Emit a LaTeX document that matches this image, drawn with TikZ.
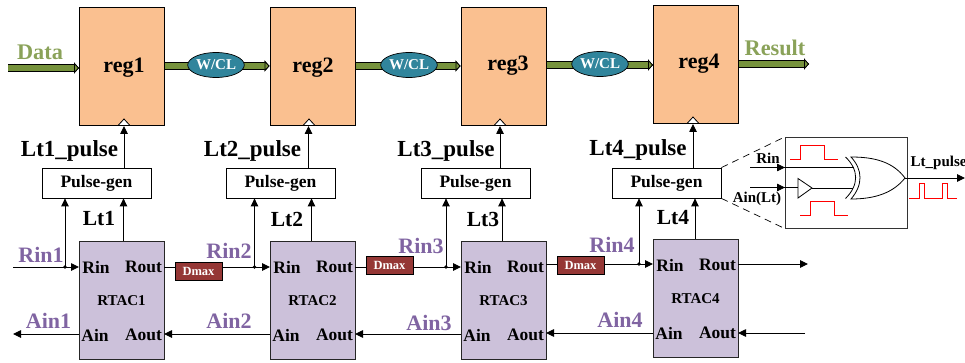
\documentclass[tikz,border=0pt]{standalone}
\usepackage{fontspec}
\setmainfont{Liberation Serif}
\usetikzlibrary{arrows.meta,shapes.geometric,calc}
\definecolor{regfill}{HTML}{FAC090}
\definecolor{rtacfill}{HTML}{CCC1DA}
\definecolor{wclfill}{HTML}{31859C}
\definecolor{busgreen}{HTML}{76923C}
\definecolor{labpurple}{HTML}{8064A2}
\definecolor{dmaxfill}{HTML}{953735}
\newcommand{\fs}[1]{\fontsize{#1pt}{#1pt}\selectfont\bfseries}
\tikzset{
  x=1pt,y=-1pt,
  regbox/.style={draw=black,line width=.9pt,fill=regfill,minimum width=85pt,minimum height=118pt,inner sep=0pt,font=\fs{22}},
  rtacbox/.style={draw=black!85,line width=.9pt,fill=rtacfill,minimum width=85pt,minimum height=118pt,inner sep=0pt},
  pgbox/.style={draw=black,line width=.8pt,fill=white,minimum width=109pt,minimum height=30pt,inner sep=0pt,font=\fs{17.5}},
  wclnode/.style={ellipse,draw=black,line width=.7pt,fill=wclfill,text=white,minimum width=54pt,minimum height=25pt,inner sep=0pt,font=\fs{15}},
  dmaxbox/.style={draw=black,line width=.7pt,fill=dmaxfill,text=white,minimum width=47pt,minimum height=18pt,inner sep=0pt,font=\fs{12.5}},
  wire/.style={draw=black,line width=.9pt},
  arrowwire/.style={wire,-{Triangle[length=8pt,width=7.5pt]}},
  bus/.style={line width=6pt,draw=busgreen,-{Triangle[length=5pt,width=11pt,fill=busgreen,color=black,line width=.8pt]},
    preaction={draw=black,line width=7.6pt,-{Triangle[length=5pt,width=11pt,fill=busgreen,color=black,line width=.8pt]}}},
  greenlab/.style={text=busgreen!85!white,font=\fs{22.3},inner sep=0pt},
  purplelab/.style={text=labpurple,font=\fs{22},inner sep=0pt},
  blacklab/.style={text=black,font=\fs{23},inner sep=0pt},
  ltlab/.style={text=black,font=\fs{21.5},inner sep=0pt},
  portlab/.style={text=black,font=\fs{17.5},inner sep=0pt},
  namelab/.style={text=black,font=\fs{15},inner sep=0pt},
  insetlab/.style={text=black,font=\fs{15},inner sep=0pt},
  dot/.style={circle,fill=black,minimum size=3.6pt,inner sep=0pt},
  pulse/.style={draw=red,line width=1pt},
  notch/.style={draw=black,line width=.8pt,fill=white},
}
\begin{document}
\begin{tikzpicture}
\useasboundingbox (0,0) rectangle (965,363);

% registers
\node[regbox] (reg1) at (121.5,66) {};
\node[regbox] (reg2) at (312.5,66) {};
\node[regbox] (reg3) at (503.5,66) {};
\node[regbox] (reg4) at (695.5,64) {};
\node[font=\fs{22},inner sep=0pt] (t1) at (124,68) {reg1};
\node[font=\fs{22},inner sep=0pt] (t2) at (313,68) {reg2};
\node[font=\fs{22},inner sep=0pt] (t3) at (508,66) {reg3};
\node[font=\fs{22},inner sep=0pt] (t4) at (699,64) {reg4};

% pulse generators
\node[pgbox] (pg1) at (96.5,183) {Pulse-gen};
\node[pgbox] (pg2) at (280.5,183) {Pulse-gen};
\node[pgbox] (pg3) at (475.5,183) {Pulse-gen};
\node[pgbox] (pg4) at (666.5,183) {Pulse-gen};

% RTAC blocks
\node[rtacbox] (rt1) at (121.5,300) {};
\node[rtacbox] (rt2) at (312.5,300) {};
\node[rtacbox] (rt3) at (503.5,300) {};
\node[rtacbox] (rt4) at (695.5,298) {};
\foreach \n/\x/\y in {1/121.5/300,2/312.5/300,3/503.5/300,4/695.5/298}{
  \node[portlab] (rinp\n) at (\x-25.5,\y-33) {Rin};
  \node[portlab] (rout\n) at (\x+22,\y-33) {Rout};
  \node[portlab] (ainp\n) at (\x-26.5,\y+35) {Ain};
  \node[portlab] (aout\n) at (\x+22,\y+35) {Aout};
  \node[namelab] (rtn\n) at (\x,\y+1) {RTAC\n};
}

% coordinates on the wires
\coordinate (datain) at (8,68);
\coordinate (datato) at (79,68);
\coordinate (resto) at (809,64);
\coordinate (rinin) at (13,267);
\coordinate (ainout) at (13,334);
\coordinate (routend) at (808,264);
\coordinate (aoutstart) at (805,333);

% green buses
\draw[bus] (datain) -- (datato);
\draw[bus] (165,66) -- (269.5,66);
\draw[bus] (356,66) -- (460.5,66);
\draw[bus] (547,65) -- (653,65);
\draw[bus] (739,64) -- (resto);
\node[wclnode] (w1) at (216,65) {W/CL};
\node[wclnode] (w2) at (409,65) {W/CL};
\node[wclnode] (w3) at (600,64) {W/CL};

% clock notches and pulse lines
\foreach \n/\x/\y in {1/124/125,2/309/125,3/500/125,4/693/123}{
  \draw[notch] (\x-5.5,\y) -- (\x,\y-6) -- (\x+5.5,\y);
}
\draw[arrowwire] (pg1.north -| 124,0) -- (124,126);
\draw[arrowwire] (pg2.north -| 308.5,0) -- (308.5,126);
\draw[arrowwire] (pg3.north -| 500,0) -- (500,126);
\draw[arrowwire] (pg4.north -| 693,0) -- (693,124);

% Lt wires
\draw[arrowwire] (rt1.north -| 123.5,0) -- (pg1.south -| 123.5,0);
\draw[arrowwire] (rt2.north -| 311.5,0) -- (pg2.south -| 311.5,0);
\draw[arrowwire] (rt3.north -| 502,0) -- (pg3.south -| 502,0);
\draw[arrowwire] (rt4.north -| 695,0) -- (pg4.south -| 695,0);

% request wires
\draw[arrowwire] (rinin) -- (79,267);
\draw[arrowwire] (164,267) -- (270,267);
\draw[arrowwire] (355,267) -- (461,267);
\draw[arrowwire] (546,264) -- (653,264);
\draw[arrowwire] (738,264) -- (routend);

\node[dot] (d1) at (65,267) {};
\node[dot] (d2) at (254.5,267) {};
\node[dot] (d3) at (446,267) {};
\node[dot] (d4) at (639,264) {};
\draw[arrowwire] (d1.center) -- (pg1.south -| d1.center);
\draw[arrowwire] (d2.center) -- (pg2.south -| d2.center);
\draw[arrowwire] (d3.center) -- (pg3.south -| d3.center);
\draw[arrowwire] (d4.center) -- (pg4.south -| d4.center);

% acknowledge wires
\draw[arrowwire] (79,334) -- (ainout);
\draw[arrowwire] (270,334) -- (164,334);
\draw[arrowwire] (461,334) -- (355,334);
\draw[arrowwire] (653,333) -- (546,333);
\draw[arrowwire] (aoutstart) -- (738,333);

% Dmax
\node[dmaxbox] (dm1) at (198.5,271) {Dmax};
\node[dmaxbox] (dm2) at (389.5,265) {Dmax};
\node[dmaxbox] (dm3) at (580.5,265) {Dmax};

% labels
\node[greenlab] (ldata) at (40,52) {Data};
\node[greenlab] (lres) at (775,48) {Result};
\node[blacklab] (lp1) at (69.5,151) {Lt1\_pulse};
\node[blacklab] (lp2) at (252.5,151) {Lt2\_pulse};
\node[blacklab] (lp3) at (446,151) {Lt3\_pulse};
\node[blacklab] (lp4) at (638,150) {Lt4\_pulse};
\node[ltlab] (ll1) at (99,219) {Lt1};
\node[ltlab] (ll2) at (287,219) {Lt2};
\node[ltlab] (ll3) at (483,219) {Lt3};
\node[ltlab] (ll4) at (673,218) {Lt4};
\node[purplelab] (lr1) at (41,255) {Rin1};
\node[purplelab] (lr2) at (229,251) {Rin2};
\node[purplelab] (lr3) at (421,246) {Rin3};
\node[purplelab] (lr4) at (612,245) {Rin4};
\node[purplelab] (la1) at (48.5,321) {Ain1};
\node[purplelab] (la2) at (229,321) {Ain2};
\node[purplelab] (la3) at (429,323) {Ain3};
\node[purplelab] (la4) at (620,320) {Ain4};

% inset
\node[draw=black!80,line width=.9pt,fill=white,minimum width=122pt,minimum height=90.5pt,inner sep=0pt] (inset) at (846,182.75) {};
\draw[black,line width=.7pt,dash pattern=on 7pt off 5pt] (pg4.north east) -- (inset.north west);
\draw[black,line width=.7pt,dash pattern=on 7pt off 5pt] (pg4.south east) -- (inset.south west);
% pulses
\draw[pulse] (790,160) -- (800,160) -- (800,146) -- (824,146) -- (824,160) -- (838,160);
\draw[pulse] (800,216) -- (810,216) -- (810,202) -- (834,202) -- (834,216) -- (848,216);
\draw[pulse] (909,198.5) -- (919,198.5) -- (919,184) -- (924,184) -- (924,198.5) -- (942,198.5) -- (942,184) -- (947,184) -- (947,198.5) -- (957,198.5);
% gates
\coordinate (xorout) at (905,178);
\draw[black,line width=.8pt] (750,167.5) -- (854,167.5);
\draw[black,line width=.8pt] (750,187.5) -- (798,187.5);
\draw[black,line width=.8pt] (812,188) -- (853,188);
\draw[arrowwire,line width=.8pt] (750,167.5) -- (785,167.5);
\draw[arrowwire,line width=.8pt] (750,187.5) -- (785,187.5);
\draw[black,line width=.8pt,fill=white] (798,178.5) -- (812,188) -- (798,198) -- cycle;
\draw[black,line width=.8pt] (845.5,157) .. controls (859,170) and (859,185) .. (845.5,198.5);
\draw[black,line width=.8pt,fill=white] (851,157) .. controls (875,157) and (893,162) .. (xorout) .. controls (893,193) and (875,199) .. (851,199) .. controls (863,185) and (863,170) .. cycle;
\draw[arrowwire,line width=.9pt] (xorout) -- (965,178);
\node[insetlab] (irin) at (768,158.5) {Rin};
\node[insetlab] (iain) at (757,198.5) {Ain(Lt)};
\node[insetlab,anchor=west] (iout) at (910.5,162.5) {Lt\_pulse};
\end{tikzpicture}
\end{document}
